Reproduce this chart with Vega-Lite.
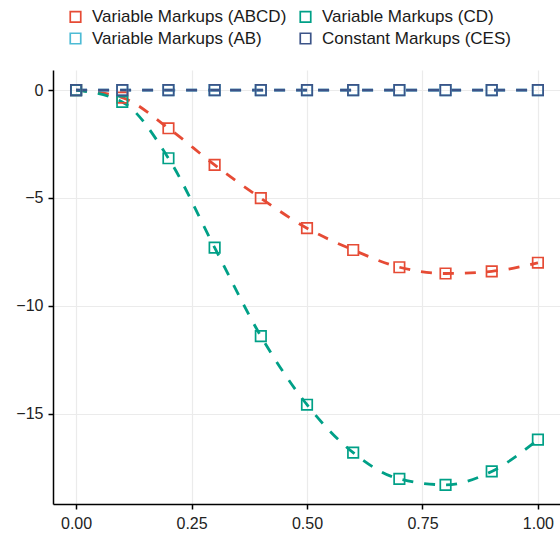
{
  "$schema": "https://vega.github.io/schema/vega-lite/v6.json",
  "width": 508,
  "height": 434,
  "autosize": {"type": "none"},
  "padding": {"left": 53, "top": 70, "right": 0, "bottom": 29},
  "background": "white",
  "config": {
    "view": {"stroke": null},
    "font": "Liberation Sans",
    "axis": {
      "labelFont": "Liberation Sans",
      "labelFontSize": 16,
      "labelColor": "#222222",
      "domainColor": "black",
      "domainWidth": 1.5,
      "tickColor": "black",
      "tickWidth": 1.5,
      "tickSize": 5,
      "gridColor": "#EBEBEB",
      "gridWidth": 1.2,
      "title": null
    }
  },
  "data": {
    "values": [
      {"x": 0.0, "y": 0.0, "series": "Variable Markups (ABCD)"},
      {"x": 0.1, "y": -0.35, "series": "Variable Markups (ABCD)"},
      {"x": 0.2, "y": -1.77, "series": "Variable Markups (ABCD)"},
      {"x": 0.3, "y": -3.47, "series": "Variable Markups (ABCD)"},
      {"x": 0.4, "y": -5.01, "series": "Variable Markups (ABCD)"},
      {"x": 0.5, "y": -6.4, "series": "Variable Markups (ABCD)"},
      {"x": 0.6, "y": -7.41, "series": "Variable Markups (ABCD)"},
      {"x": 0.7, "y": -8.21, "series": "Variable Markups (ABCD)"},
      {"x": 0.8, "y": -8.5, "series": "Variable Markups (ABCD)"},
      {"x": 0.9, "y": -8.4, "series": "Variable Markups (ABCD)"},
      {"x": 1.0, "y": -8.0, "series": "Variable Markups (ABCD)"},
      {"x": 0.0, "y": 0.0, "series": "Variable Markups (AB)"},
      {"x": 0.1, "y": 0.0, "series": "Variable Markups (AB)"},
      {"x": 0.2, "y": 0.0, "series": "Variable Markups (AB)"},
      {"x": 0.3, "y": 0.0, "series": "Variable Markups (AB)"},
      {"x": 0.4, "y": 0.0, "series": "Variable Markups (AB)"},
      {"x": 0.5, "y": 0.0, "series": "Variable Markups (AB)"},
      {"x": 0.6, "y": 0.0, "series": "Variable Markups (AB)"},
      {"x": 0.7, "y": 0.0, "series": "Variable Markups (AB)"},
      {"x": 0.8, "y": 0.0, "series": "Variable Markups (AB)"},
      {"x": 0.9, "y": 0.0, "series": "Variable Markups (AB)"},
      {"x": 1.0, "y": 0.0, "series": "Variable Markups (AB)"},
      {"x": 0.0, "y": 0.0, "series": "Variable Markups (CD)"},
      {"x": 0.1, "y": -0.55, "series": "Variable Markups (CD)"},
      {"x": 0.2, "y": -3.16, "series": "Variable Markups (CD)"},
      {"x": 0.3, "y": -7.3, "series": "Variable Markups (CD)"},
      {"x": 0.4, "y": -11.4, "series": "Variable Markups (CD)"},
      {"x": 0.5, "y": -14.58, "series": "Variable Markups (CD)"},
      {"x": 0.6, "y": -16.8, "series": "Variable Markups (CD)"},
      {"x": 0.7, "y": -18.02, "series": "Variable Markups (CD)"},
      {"x": 0.8, "y": -18.29, "series": "Variable Markups (CD)"},
      {"x": 0.9, "y": -17.67, "series": "Variable Markups (CD)"},
      {"x": 1.0, "y": -16.2, "series": "Variable Markups (CD)"},
      {"x": 0.0, "y": 0.0, "series": "Constant Markups (CES)"},
      {"x": 0.1, "y": 0.0, "series": "Constant Markups (CES)"},
      {"x": 0.2, "y": 0.0, "series": "Constant Markups (CES)"},
      {"x": 0.3, "y": 0.0, "series": "Constant Markups (CES)"},
      {"x": 0.4, "y": 0.0, "series": "Constant Markups (CES)"},
      {"x": 0.5, "y": 0.0, "series": "Constant Markups (CES)"},
      {"x": 0.6, "y": 0.0, "series": "Constant Markups (CES)"},
      {"x": 0.7, "y": 0.0, "series": "Constant Markups (CES)"},
      {"x": 0.8, "y": 0.0, "series": "Constant Markups (CES)"},
      {"x": 0.9, "y": 0.0, "series": "Constant Markups (CES)"},
      {"x": 1.0, "y": 0.0, "series": "Constant Markups (CES)"}
    ]
  },
  "encoding": {
    "x": {
      "field": "x", "type": "quantitative",
      "scale": {"domain": [-0.05, 1.05], "nice": false, "zero": false},
      "axis": {"values": [0, 0.25, 0.5, 0.75, 1], "format": ".2f", "labelPadding": 6, "labelFlush": false}
    },
    "y": {
      "field": "y", "type": "quantitative",
      "scale": {"domain": [-19.18, 0.93], "nice": false, "zero": false},
      "axis": {"values": [0, -5, -10, -15], "format": "d", "labelPadding": 5, "labelExpr": "datum.value < 0 ? '\u2212' + abs(datum.value) : '' + datum.value"}
    },
    "color": {
      "field": "series", "type": "nominal",
      "scale": {
        "domain": ["Variable Markups (ABCD)", "Variable Markups (CD)", "Variable Markups (AB)", "Constant Markups (CES)"],
        "range": ["#E64B35", "#00A087", "#4DBBD5", "#3C5488"]
      },
      "legend": {
        "orient": "none",
        "legendX": 14,
        "legendY": -62,
        "columns": 2,
        "direction": "horizontal",
        "title": null,
        "padding": 0,
        "symbolType": "square",
        "symbolSize": 110,
        "symbolStrokeWidth": 1.7,
        "symbolFillColor": "transparent",
        "labelFont": "Liberation Sans",
        "labelFontSize": 17,
        "labelColor": "#1a1a1a",
        "labelOffset": 8,
        "labelLimit": 400,
        "columnPadding": 9,
        "rowPadding": 3,
        "gridAlign": "all"
      }
    }
  },
  "layer": [
    {
      "mark": {"type": "line", "strokeWidth": 2.8, "strokeDash": [11, 11], "interpolate": "monotone"},
      "encoding": {"detail": {"field": "series"}}
    },
    {
      "mark": {"type": "point", "shape": "square", "filled": false, "size": 110, "strokeWidth": 1.7, "opacity": 1}
    }
  ]
}
